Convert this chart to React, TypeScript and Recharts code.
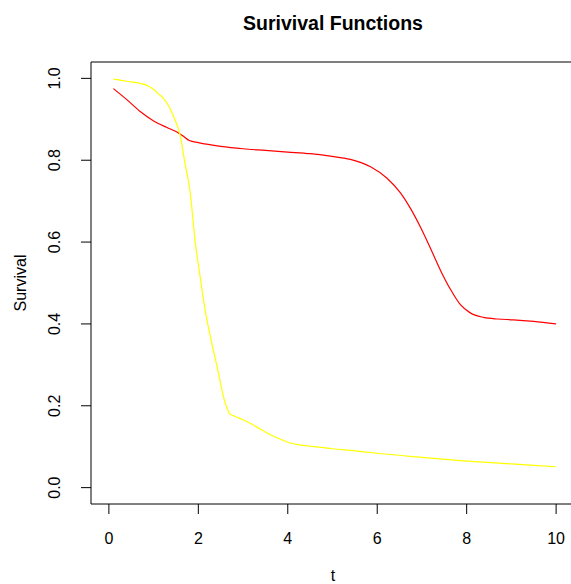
import { LineChart, Line, XAxis, YAxis, ReferenceArea } from 'recharts'

// survival estimates, group 1 (red)
const redT = [0.1, 0.4, 0.7, 1.0, 1.3, 1.5, 1.65, 1.8, 2.0, 2.5, 3.0, 3.5, 4.0, 4.5, 4.95, 5.4, 5.85, 6.22, 6.52, 6.74, 6.96, 7.19, 7.41, 7.64, 7.86, 8.08, 8.38, 8.7, 9.05, 9.5, 10.0]
const redS = [0.975, 0.948, 0.919, 0.896, 0.88, 0.87, 0.86, 0.848, 0.843, 0.834, 0.828, 0.824, 0.82, 0.816, 0.81, 0.802, 0.784, 0.756, 0.72, 0.683, 0.638, 0.585, 0.532, 0.484, 0.447, 0.427, 0.416, 0.412, 0.41, 0.406, 0.4]

// survival estimates, group 2 (yellow)
const yelT = [0.1, 0.4, 0.7, 0.9, 1.0, 1.1, 1.22, 1.35, 1.45, 1.6, 1.69, 1.82, 1.93, 2.04, 2.15, 2.3, 2.45, 2.56, 2.64, 2.7, 2.8, 3.0, 3.2, 3.4, 3.6, 3.8, 4.0, 4.3, 4.6, 5.0, 5.5, 6.0, 7.0, 8.0, 9.0, 10.0]
const yelS = [0.998, 0.993, 0.988, 0.98, 0.973, 0.963, 0.951, 0.93, 0.906, 0.858, 0.8, 0.72, 0.6, 0.516, 0.435, 0.354, 0.28, 0.223, 0.195, 0.181, 0.175, 0.166, 0.155, 0.142, 0.13, 0.12, 0.111, 0.104, 0.1, 0.095, 0.09, 0.084, 0.074, 0.065, 0.058, 0.051]

const xTicks = [0, 2, 4, 6, 8, 10]
const yTicks = [0, 0.2, 0.4, 0.6, 0.8, 1.0]

const redData = redT.map((t, i) => ({ t, s: redS[i] }))
const yelData = yelT.map((t, i) => ({ t, s: yelS[i] }))

const FONT = '"Liberation Sans", Arial, Helvetica, sans-serif'

const YTick = (props: any) => {
  const { x, y, payload } = props
  return (
    <text x={x - 24} y={y} transform={`rotate(-90 ${x - 24} ${y})`} textAnchor="middle" dominantBaseline="central" fontSize={16} fontFamily={FONT} fill="#000">
      {payload.value.toFixed(1)}
    </text>
  )
}

const XTick = (props: any) => {
  const { x, y, payload } = props
  return (
    <text x={x} y={y + 22} textAnchor="middle" dominantBaseline="central" fontSize={16} fontFamily={FONT} fill="#000">
      {payload.value}
    </text>
  )
}

export default function App() {
  return (
    <div style={{ position: 'absolute', left: 0, top: 0, width: 571, height: 584, overflow: 'hidden', background: '#fff' }}>
      <svg width={571} height={584} style={{ position: 'absolute', left: 0, top: 0 }}>
        <text x={333} y={23} textAnchor="middle" dominantBaseline="central" fontSize={19.5} fontWeight="bold" fontFamily={FONT}>Surivival Functions</text>
        <text x={333} y={575} textAnchor="middle" dominantBaseline="central" fontSize={16} fontFamily={FONT}>t</text>
        <text x={20} y={283} transform="rotate(-90 20 283)" textAnchor="middle" dominantBaseline="central" fontSize={16} fontFamily={FONT}>Survival</text>
      </svg>
      <div style={{ position: 'absolute', left: 0, top: 0 }}>
        <LineChart width={576} height={584} margin={{ top: 62, right: 2, left: 0, bottom: 0 }}>
          <XAxis
            dataKey="t"
            type="number"
            domain={[-0.4, 10.4]}
            ticks={xTicks}
            allowDataOverflow
            axisLine={false}
            tickLine={{ stroke: '#000' }}
            tickSize={10}
            tick={<XTick />}
            height={80}
          />
          <YAxis
            dataKey="s"
            type="number"
            domain={[-0.04, 1.04]}
            ticks={yTicks}
            allowDataOverflow
            axisLine={false}
            tickLine={{ stroke: '#000' }}
            tickSize={10}
            tick={<YTick />}
            width={91}
          />
          <ReferenceArea x1={-0.4} x2={10.4} y1={-0.04} y2={1.04} fill="none" stroke="#000" strokeWidth={1} ifOverflow="visible" />
          <Line data={redData} dataKey="s" type="monotone" stroke="#ff0000" strokeWidth={1.2} dot={false} isAnimationActive={false} />
          <Line data={yelData} dataKey="s" type="monotone" stroke="#ffff00" strokeWidth={1.2} dot={false} isAnimationActive={false} />
        </LineChart>
      </div>
    </div>
  )
}
